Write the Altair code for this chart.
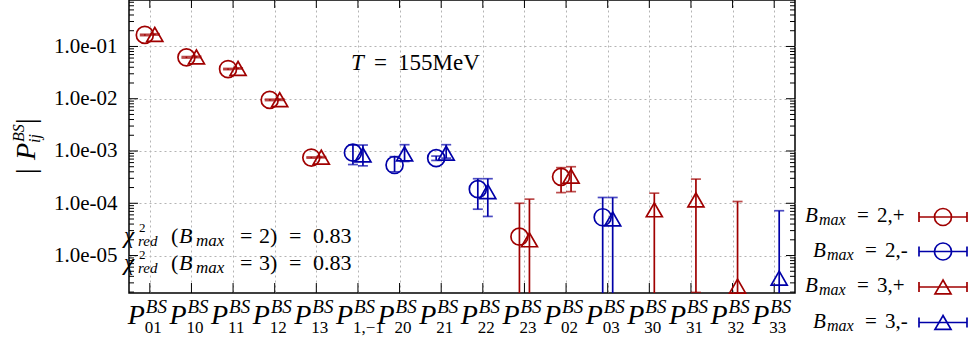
import altair as alt
import pandas as pd

FONT = "Liberation Serif"
RED = "#a00000"
BLUE = "#0000a8"
W, H = 666, 293
PADL = 129

# ---------------- data ----------------
categories = ["01", "10", "11", "12", "13", "1,-1", "20", "21", "22", "23", "02", "03", "30", "31", "32", "33"]
sub_labels = ["01", "10", "11", "12", "13", "1,\u22121", "20", "21", "22", "23", "02", "03", "30", "31", "32", "33"]
parity = ["+", "+", "+", "+", "+", "-", "-", "-", "-", "+", "+", "-", "+", "+", "+", "-"]

# B_max = 2 (circles), first 12 categories; 1e-9 = error bar reaching below the axis
b2_value = [0.166, 0.062, 0.037, 0.0095, 7.5e-4, 9.3e-4, 5.4e-4, 7.3e-4, 1.86e-4, 2.3e-5, 3.2e-4, 5.4e-5]
b2_low = [0.161, 0.060, 0.036, 0.0092, 7.3e-4, 5.5e-4, 4.0e-4, 6.6e-4, 7.7e-5, 1e-9, 1.6e-4, 1e-9]
b2_high = [0.171, 0.064, 0.038, 0.0098, 7.7e-4, 1.3e-3, 7.8e-4, 8.0e-4, 2.95e-4, 1.0e-4, 4.8e-4, 1.29e-4]

# B_max = 3 (triangles), all 16 categories
b3_value = [0.170, 0.063, 0.038, 0.0096, 7.6e-4, 8.4e-4, 8.8e-4, 9.1e-4, 1.67e-4, 2.0e-5, 3.3e-4, 5.0e-5,
            7.5e-5, 1.16e-4, 2.6e-6, 3.7e-6]
b3_low = [0.165, 0.061, 0.037, 0.0093, 7.4e-4, 5.2e-4, 6.3e-4, 7.3e-4, 5.6e-5, 1e-9, 1.67e-4, 1e-9,
          1e-9, 1.97e-6, 1e-9, 1e-9]
b3_high = [0.175, 0.065, 0.039, 0.0099, 7.8e-4, 1.3e-3, 1.32e-3, 1.32e-3, 2.95e-4, 1.2e-4, 5.0e-4, 1.29e-4,
           1.56e-4, 2.9e-4, 1.08e-4, 7.2e-5]

y_major = [1e-5, 1e-4, 1e-3, 1e-2, 1e-1]
y_domain = [1.92e-6, 0.774]
y_minor = [m * 10.0 ** k for k in range(-6, 0) for m in range(2, 10) if y_domain[0] <= m * 10.0 ** k <= y_domain[1]]

legend_labels = ["2,+", "2,-", "3,+", "3,-"]
legend_colors = [RED, BLUE, RED, BLUE]
legend_shapes = ["circle", "circle", "triangle-up", "triangle-up"]

df2 = pd.DataFrame({"cat": categories[:12], "v": b2_value, "lo": b2_low, "hi": b2_high, "par": parity[:12]})
df3 = pd.DataFrame({"cat": categories, "v": b3_value, "lo": b3_low, "hi": b3_high, "par": parity})
cat_df = pd.DataFrame({"cat": categories, "sub": sub_labels})
ONE = pd.DataFrame({"d": [0]})

# ---------------- scales / axes ----------------
grid_color = "#b4b4b4"
xaxis = alt.Axis(title=None, labels=False, ticks=False, domain=False, grid=True,
                 gridDash=[2, 3], gridColor=grid_color, gridWidth=1)
yaxis = alt.Axis(title=None, values=y_major, ticks=False, domain=False, grid=True,
                 gridDash=[2, 3], gridColor=grid_color, gridWidth=1,
                 labelExpr="'1.0e-0' + (-round(log(datum.value)/LN10))",
                 labelFont=FONT, labelFontSize=21, labelColor="black", labelPadding=12)
xscale = alt.Scale(type="point", padding=0.5)
yscale = alt.Scale(type="log", domain=y_domain, nice=False)


def X():
    return alt.X("cat:N", sort=categories, scale=xscale, axis=xaxis)


def Y(field):
    return alt.Y(field, scale=yscale, axis=yaxis)


color = alt.Color("par:N", scale=alt.Scale(domain=["+", "-"], range=[RED, BLUE]), legend=None)

SW = 1.7
layers = []


def series(df, off, shape, size):
    out = []
    out.append(alt.Chart(df).mark_rule(clip=True, strokeWidth=SW, xOffset=off).encode(
        x=X(), y=Y("lo:Q"), y2="hi:Q", color=color))
    for f in ["lo:Q", "hi:Q"]:
        out.append(alt.Chart(df).mark_tick(clip=True, size=10, thickness=SW, xOffset=off).encode(
            x=X(), y=Y(f), color=color))
    out.append(alt.Chart(df).mark_point(shape=shape, filled=False, size=size, strokeWidth=SW,
                                        xOffset=off, opacity=1).encode(x=X(), y=Y("v:Q"), color=color))
    return out


# ticks (inward) on all four sides
minor_df = pd.DataFrame({"v": y_minor})
major_df = pd.DataFrame({"v": y_major})
for dfx, L in [(minor_df, 5), (major_df, 9)]:
    layers.append(alt.Chart(dfx).mark_rule(color="black", strokeWidth=1).encode(
        y=Y("v:Q"), x=alt.value(0), x2=alt.value(L)))
    layers.append(alt.Chart(dfx).mark_rule(color="black", strokeWidth=1).encode(
        y=Y("v:Q"), x=alt.value(W - L), x2=alt.value(W)))
layers.append(alt.Chart(cat_df).mark_rule(color="black", strokeWidth=1).encode(
    x=X(), y=alt.value(H), y2=alt.value(H - 10)))
layers.append(alt.Chart(cat_df).mark_rule(color="black", strokeWidth=1).encode(
    x=X(), y=alt.value(0), y2=alt.value(8)))

layers += series(df2, -5, "circle", 289)
layers += series(df3, 5, "triangle-up", 256)

# x tick labels  P_{ij}^{BS}
layers.append(alt.Chart(cat_df).mark_text(align="left", baseline="alphabetic", dx=-22, font=FONT,
                                          fontSize=28, fontStyle="italic", color="black").encode(
    x=X(), y=alt.value(324), text=alt.value("P")))
layers.append(alt.Chart(cat_df).mark_text(align="left", baseline="alphabetic", dx=-4, font=FONT,
                                          fontSize=19, fontStyle="italic", color="black").encode(
    x=X(), y=alt.value(313), text=alt.value("BS")))
layers.append(alt.Chart(cat_df).mark_text(align="left", baseline="alphabetic", dx=-5, font=FONT,
                                          fontSize=17, color="black").encode(
    x=X(), y=alt.value(333), text="sub:N"))


def txt(s, x, y, size=21, italic=False, angle=0):
    return alt.Chart(ONE).mark_text(text=s, align="left", baseline="alphabetic", font=FONT, fontSize=size,
                                    fontStyle="italic" if italic else "normal", angle=angle,
                                    color="black").encode(x=alt.value(x - PADL), y=alt.value(y))


# annotation T = 155MeV
layers += [txt("T", 351, 70, 23, True), txt("=", 374, 70, 23), txt("155MeV", 398, 70, 23)]

# chi^2 annotations
for yb, b in [(243, "2"), (270, "3")]:
    layers += [
        txt("\u03c7", 124, yb, 23, True),
        txt("2", 139, yb - 11, 13),
        txt("red", 138, yb + 3, 15, True),
        txt("(", 171, yb, 22),
        txt("B", 179, yb, 22, True),
        txt("max", 196, yb + 3, 17, True),
        txt("=", 240, yb, 22),
        txt(b + ")", 259, yb, 22),
        txt("=", 289, yb, 22),
        txt("0.83", 313, yb, 22),
    ]

# y-axis title |P_ij^BS| (rotated)
layers += [
    txt("|", 35, 174, 28, False, 270),
    txt("P", 35, 160, 28, True, 270),
    txt("BS", 24, 142, 16, True, 270),
    txt("ij", 40, 143, 16, True, 270),
    txt("|", 35, 124, 28, False, 270),
]

# manual legend
legend_rows = [217, 251.5, 287, 322.5]
for i, (lab, col, shp) in enumerate(zip(legend_labels, legend_colors, legend_shapes)):
    ry = legend_rows[i]
    base = 0 if lab.endswith("+") else 8
    layers += [
        txt("B", 805 + base, ry + 5, 21, True),
        txt("max", 819 + base, ry + 8, 16, True),
        txt("=", 857 + base, ry + 5, 21),
        txt(lab, 877 + base, ry + 5, 21),
    ]
    layers.append(alt.Chart(ONE).mark_rule(color=col, strokeWidth=SW).encode(
        x=alt.value(919 - PADL), x2=alt.value(967 - PADL), y=alt.value(ry)))
    for cx in [919, 967]:
        layers.append(alt.Chart(ONE).mark_rule(color=col, strokeWidth=SW).encode(
            x=alt.value(cx - PADL), y=alt.value(ry - 5), y2=alt.value(ry + 5)))
    layers.append(alt.Chart(ONE).mark_point(shape=shp, filled=False, color=col, opacity=1,
                                            size=289 if shp == "circle" else 256, strokeWidth=SW).encode(
        x=alt.value(943 - PADL), y=alt.value(ry)))

chart = alt.layer(*layers).properties(
    width=W, height=H,
    padding={"left": PADL, "top": 0, "right": 973 - PADL - W, "bottom": 345 - H},
    autosize="none",
    background="white",
).configure_view(stroke="black", strokeWidth=1.5)

chart.save("out.html", embed_options={"renderer": "svg", "actions": False})
